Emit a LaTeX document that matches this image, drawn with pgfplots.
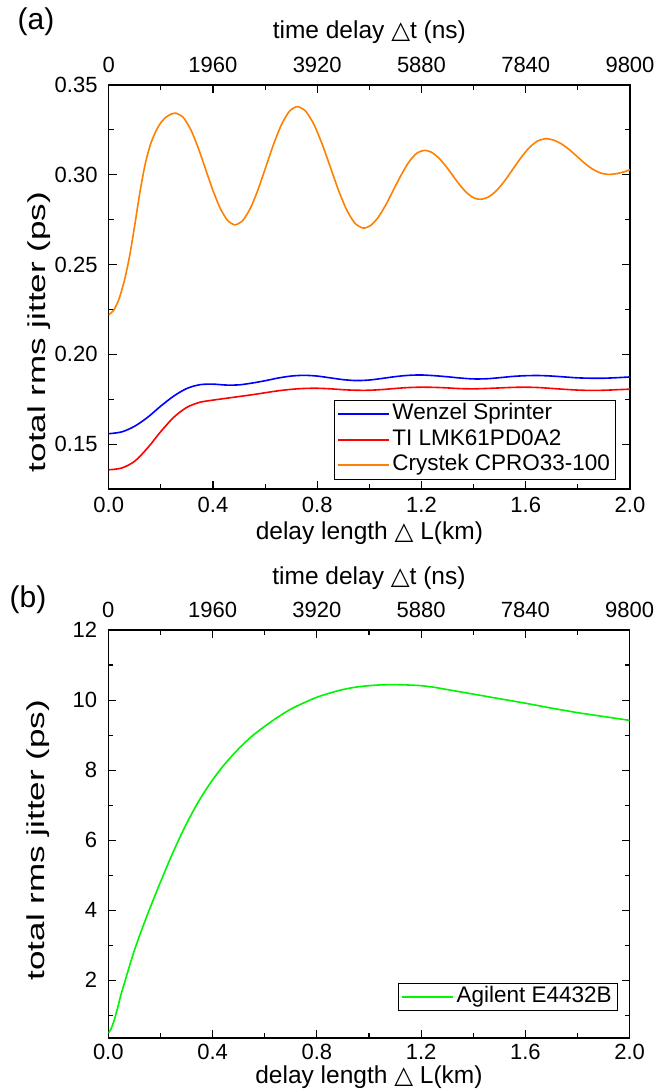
\documentclass[border=0pt]{standalone}
\usepackage{fontspec}
\setmainfont{Liberation Sans}
\newfontfamily\dejavu{DejaVu Sans}
\usepackage{graphicx}
\usepackage{pgfplots}
\pgfplotsset{compat=1.18}

\definecolor{cblue}{RGB}{0,0,255}
\definecolor{cred}{RGB}{255,0,0}
\definecolor{corange}{RGB}{255,128,0}
\definecolor{cgreen}{RGB}{0,245,0}

\pgfplotsset{
  base/.style={
    scale only axis, width=521.3pt,
    xmin=0, xmax=2,
    axis line style={line width=1.1pt},
    every tick/.style={black, line width=1.1pt},
    major tick length=8pt, minor tick length=5pt,
    tick align=inside,
    tick label style={font=\fontsize{22}{26}\selectfont, inner sep=0pt},
    yticklabel style={xshift=-11pt},
    label style={font=\fontsize{24.5}{28}\selectfont, inner sep=0pt},
    legend cell align=left,
    legend image code/.code={\draw[##1, line width=1.8pt] (0pt,0pt) -- (51pt,0pt);},
  },
  bottomx/.style={
    xtick={0,0.4,0.8,1.2,1.6,2},
    xticklabels={0.0,0.4,0.8,1.2,1.6,2.0},
    minor xtick={0.2,0.6,1.0,1.4,1.8},
    xtick pos=bottom,
    ytick pos=both,
    xticklabel style={yshift=-8pt},
    xlabel={delay length {\dejavu △} L(km)},
  },
  topx/.style={
    xmin=0, xmax=9800, ymin=0, ymax=1,
    axis x line*=top, axis y line=none,
    xtick={0,1960,3920,5880,7840,9800},
    xticklabels={0,1960,3920,5880,7840,9800},
    minor xtick={980,2940,4900,6860,8820},
    xticklabel style={yshift=12pt},
    xlabel={time delay {\dejavu △}t (ns)},
  },
  mylegend/.style={
    legend style={at={(1,0)}, anchor=south east, draw=black, line width=0.9pt, fill=white,
      font=\fontsize{22.5}{26}\selectfont, inner xsep=3pt, inner ysep=1pt, row sep=0pt,
      nodes={inner sep=2.5pt, text height=16pt, text depth=4.6pt}},
  },
}

\begin{document}
\begin{tikzpicture}[x=1pt,y=1pt]
\useasboundingbox (0,0) rectangle (657,-1089);

% ---------------- panel (a) ----------------
\begin{axis}[base, bottomx, mylegend,
  at={(108.7pt,-489pt)}, anchor=south west, height=404pt,
  ymin=0.125, ymax=0.35,
  ytick={0.15,0.2,0.25,0.3,0.35},
  yticklabels={0.15,0.20,0.25,0.30,0.35},
  minor ytick={0.175,0.225,0.275,0.325},
  ylabel={\scalebox{1.43}[1]{total rms jitter (ps)}},
  ylabel style={at={(axis description cs:-0.1337,0.3886)}, anchor=center},
  xlabel style={at={(axis description cs:0.5,-0.109)}, anchor=center},
  legend style={xshift=-14pt, yshift=9.5pt},
]
\addplot[cblue, line width=1.6pt, smooth] coordinates {
(0.00,0.1558) (0.05,0.1568) (0.10,0.1600) (0.15,0.1650) (0.20,0.1712) (0.25,0.1768)
(0.30,0.1810) (0.35,0.1831) (0.40,0.1834) (0.45,0.1829) (0.50,0.1830) (0.55,0.1840)
(0.60,0.1853) (0.65,0.1868) (0.70,0.1879) (0.75,0.1883) (0.80,0.1879) (0.85,0.1869)
(0.90,0.1859) (0.95,0.1854) (1.00,0.1857) (1.05,0.1866) (1.10,0.1876) (1.15,0.1883)
(1.20,0.1885) (1.25,0.1881) (1.30,0.1875) (1.35,0.1868) (1.40,0.1863) (1.45,0.1864)
(1.50,0.1870) (1.55,0.1877) (1.60,0.1881) (1.65,0.1882) (1.70,0.1879) (1.75,0.1874)
(1.80,0.1869) (1.85,0.1867) (1.90,0.1867) (1.95,0.1870) (2.00,0.1874)
};
\addlegendentry{Wenzel Sprinter}
\addplot[cred, line width=1.6pt, smooth] coordinates {
(0.00,0.1357) (0.05,0.1367) (0.10,0.1405) (0.15,0.1480) (0.20,0.1570) (0.25,0.1650)
(0.30,0.1705) (0.35,0.1733) (0.40,0.1745) (0.45,0.1755) (0.50,0.1765) (0.55,0.1775)
(0.60,0.1786) (0.65,0.1797) (0.70,0.1805) (0.75,0.1810) (0.80,0.1811) (0.85,0.1808)
(0.90,0.1803) (0.95,0.1800) (1.00,0.1800) (1.05,0.1804) (1.10,0.1810) (1.15,0.1815)
(1.20,0.1817) (1.25,0.1816) (1.30,0.1813) (1.35,0.1809) (1.40,0.1808) (1.45,0.1810)
(1.50,0.1813) (1.55,0.1816) (1.60,0.1817) (1.65,0.1815) (1.70,0.1810) (1.75,0.1805)
(1.80,0.1801) (1.85,0.1799) (1.90,0.1800) (1.95,0.1803) (2.00,0.1806)
};
\addlegendentry{TI LMK61PD0A2}
\addplot[corange, line width=1.6pt, smooth, tension=0.4] coordinates {
(0.000,0.2220) (0.020,0.2247) (0.040,0.2310) (0.060,0.2410) (0.080,0.2545)
(0.100,0.2720) (0.120,0.2905) (0.140,0.3060) (0.160,0.3168) (0.180,0.3240)
(0.200,0.3290) (0.220,0.3321) (0.240,0.3338) (0.258,0.3343)
(0.2864,0.3319) (0.3148,0.3252) (0.3431,0.3151) (0.3715,0.3032) (0.3999,0.2913)
(0.4283,0.2812) (0.4566,0.2745) (0.485,0.2721)
(0.5149,0.2746) (0.5448,0.2817) (0.5746,0.2924) (0.6045,0.3051) (0.6344,0.3177)
(0.6643,0.3284) (0.6941,0.3355) (0.724,0.3380)
(0.7556,0.3354) (0.7873,0.3281) (0.8189,0.3171) (0.8505,0.3042) (0.8821,0.2912)
(0.9138,0.2802) (0.9454,0.2729) (0.977,0.2703)
(1.0063,0.2719) (1.0355,0.2766) (1.0648,0.2837) (1.094,0.2920) (1.1233,0.3002)
(1.1525,0.3073) (1.1818,0.3120) (1.211,0.3136)
(1.2378,0.3126) (1.2645,0.3096) (1.2913,0.3052) (1.318,0.3000) (1.3448,0.2947)
(1.3715,0.2903) (1.3983,0.2873) (1.425,0.2863)
(1.4565,0.2876) (1.488,0.2912) (1.5195,0.2967) (1.551,0.3032) (1.5825,0.3097)
(1.614,0.3152) (1.6455,0.3188) (1.677,0.3201)
(1.707,0.3193) (1.737,0.3172) (1.767,0.3140) (1.797,0.3102) (1.827,0.3063)
(1.857,0.3031) (1.887,0.3010) (1.917,0.3002)
(1.947,0.3006) (1.977,0.3016) (2.000,0.3029)
};
\addlegendentry{Crystek CPRO33-100}
\end{axis}
\begin{axis}[base, topx,
  at={(108.7pt,-489pt)}, anchor=south west, height=404pt,
  xlabel style={at={(axis description cs:0.5,1.131)}, anchor=center},
]
\end{axis}

% ---------------- panel (b) ----------------
\begin{axis}[base, bottomx, mylegend,
  at={(108.3pt,-1038pt)}, anchor=south west, height=408pt,
  ymin=0.35, ymax=12,
  ytick={2,4,6,8,10,12},
  yticklabels={2,4,6,8,10,12},
  minor ytick={1,3,5,7,9,11},
  xticklabel style={yshift=2pt},
  ylabel={\scalebox{1.43}[1]{total rms jitter (ps)}},
  ylabel style={at={(axis description cs:-0.1337,0.485)}, anchor=center},
  xlabel style={at={(axis description cs:0.5,-0.0956)}, anchor=center},
  legend style={xshift=-12pt, yshift=27pt},
]
\addplot[cgreen, line width=1.6pt, smooth] coordinates {
(0.000,0.49) (0.010,0.60) (0.020,0.80) (0.030,1.05) (0.040,1.33) (0.050,1.62)
(0.100,2.85) (0.150,3.87) (0.200,4.80) (0.250,5.68)
(0.300,6.47) (0.350,7.15) (0.400,7.72) (0.450,8.20) (0.500,8.61) (0.550,8.96)
(0.600,9.25) (0.650,9.51) (0.700,9.74) (0.750,9.92) (0.800,10.08) (0.850,10.20)
(0.900,10.30) (0.950,10.37) (1.000,10.41) (1.050,10.435) (1.100,10.44) (1.150,10.43)
(1.200,10.41) (1.250,10.365) (1.300,10.30) (1.350,10.235) (1.400,10.17) (1.450,10.105)
(1.500,10.04) (1.550,9.975) (1.600,9.91) (1.650,9.84) (1.700,9.77) (1.750,9.705)
(1.800,9.64) (1.850,9.585) (1.900,9.53) (1.950,9.475) (2.000,9.42)
};
\addlegendentry{Agilent E4432B}
\end{axis}
\begin{axis}[base, topx,
  at={(108.3pt,-1038pt)}, anchor=south west, height=408pt,
  xlabel style={at={(axis description cs:0.5,1.127)}, anchor=center},
]
\end{axis}

\node[font=\fontsize{30}{34}\selectfont] at (36,-22) {(a)};
\node[font=\fontsize{30}{34}\selectfont] at (28,-600) {(b)};
\end{tikzpicture}
\end{document}
